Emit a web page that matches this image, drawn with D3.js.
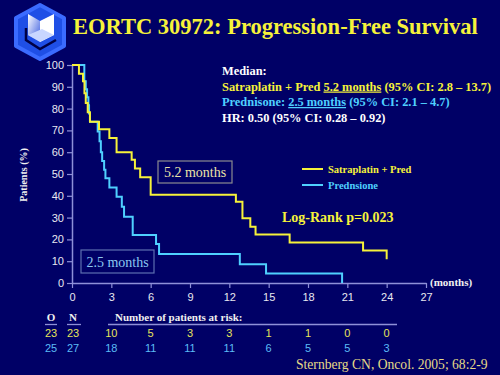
<!DOCTYPE html>
<html>
<head>
<meta charset="utf-8">
<script src="https://cdn.jsdelivr.net/npm/d3@7"></script>
<style>
  body { margin: 0; background: #000066; }
  svg { display: block; }
</style>
</head>
<body>
<div id="chart"></div>
<script>
// Kaplan-Meier steps (months, % progression-free)
const satTimes = [0, 0.53, 0.84, 0.95, 1.05, 1.2, 1.37, 2.06, 2.85, 3.4, 4.55, 4.8, 5.2, 6.0, 12.5, 13.0, 13.6, 14.0, 16.6, 22.2, 24];
const satSurv  = [100, 96, 92.5, 87, 82.6, 78.3, 74, 70.5, 66.5, 60, 56.5, 52.5, 48.5, 40.5, 37.3, 29.7, 25.8, 22.3, 18.6, 14.9, 10.9];
const predTimes = [0, 0.94, 1.05, 1.15, 1.25, 1.3, 1.37, 1.96, 2.1, 2.2, 2.3, 2.45, 2.55, 2.85, 3.4, 3.8, 3.97, 4.63, 6.41, 6.64, 12.8, 14.8, 20.6];
const predSurv  = [100, 92.6, 88.9, 85.2, 81.5, 77.8, 74, 69.5, 65, 60, 56, 52, 48, 43.8, 39.6, 35, 30.4, 22, 17.9, 13.3, 8.6, 4.4, 0];

const xTicks = [0, 3, 6, 9, 12, 15, 18, 21, 24, 27];
const yTicks = [0, 10, 20, 30, 40, 50, 60, 70, 80, 90, 100];

// number at risk
const riskTimes = [3, 6, 9, 12, 15, 18, 21, 24];
const satRisk  = [10, 5, 3, 3, 1, 1, 0, 0];
const predRisk = [18, 11, 11, 11, 6, 5, 5, 3];
const satON  = [23, 23];
const predON = [25, 27];

const width = 500, height = 375;
const YEL = "#f6f23a", CYAN = "#4fd0ff", AXIS = "#8e90d8";
const SERIF = "'Liberation Serif', 'Times New Roman', serif";
const SANS = "'Liberation Sans', Arial, sans-serif";

const svg = d3.select("#chart").append("svg")
  .attr("width", width).attr("height", height);

svg.append("rect").attr("width", width).attr("height", height).attr("fill", "#000066");

// logo
const defs = svg.append("defs");
const grad = defs.append("linearGradient").attr("id", "lg")
  .attr("x1", "0").attr("y1", "0").attr("x2", "1").attr("y2", "1");
grad.append("stop").attr("offset", "0").attr("stop-color", "#ffffff");
grad.append("stop").attr("offset", "1").attr("stop-color", "#3a5ce0");
const logo = svg.append("g").attr("transform", "translate(40,32)");
logo.append("path")
  .attr("d", "M0,-27 L24,-14 L24,14 L0,27 L-24,14 L-24,-14 Z")
  .attr("fill", "#1f4fe6").attr("stroke", "#3b6bff").attr("stroke-width", 4).attr("stroke-linejoin", "round");
logo.append("path").attr("d", "M-12,-18 L0,-11 L0,10 L-12,3 Z").attr("fill", "url(#lg)");
logo.append("path").attr("d", "M0,-11 L14,-18 L14,3 L0,10 Z").attr("fill", "#ffffff");
logo.append("path").attr("d", "M-12,3 L0,10 L14,3 L2,-3 Z").attr("fill", "#c9d6ff");
logo.append("path").attr("d", "M-14,-4 L-14,8 L0,17 L16,8").attr("fill", "none").attr("stroke", "#000044").attr("stroke-width", 2.5);

// title
svg.append("text")
  .attr("x", 73).attr("y", 34)
  .attr("font-family", SERIF).attr("font-weight", "bold").attr("font-size", 22.5)
  .attr("fill", YEL)
  .text("EORTC 30972: Progression-Free Survival");

const x = d3.scaleLinear().domain([0, 27]).range([72, 426]);
const y = d3.scaleLinear().domain([0, 100]).range([283, 65]);

// axes
const yAxis = svg.append("g").attr("transform", "translate(72,0)")
  .call(d3.axisLeft(y).tickValues(yTicks).tickSize(5).tickSizeOuter(0));
const xAxis = svg.append("g").attr("transform", "translate(0,283)")
  .call(d3.axisBottom(x).tickValues(xTicks).tickSize(5).tickSizeOuter(0));
[xAxis, yAxis].forEach(a => {
  a.select(".domain").attr("stroke", AXIS).attr("stroke-width", 1.5);
  a.selectAll(".tick line").attr("stroke", AXIS).attr("stroke-width", 1.2);
  a.selectAll(".tick text").attr("fill", "#e8e8f0")
    .attr("font-family", SANS).attr("font-size", 11);
});
yAxis.selectAll(".tick text").attr("x", -8);
xAxis.selectAll(".tick text").attr("y", 10);

svg.append("text")
  .attr("transform", "translate(27,175) rotate(-90)")
  .attr("text-anchor", "middle")
  .attr("font-family", SERIF).attr("font-weight", "bold").attr("font-size", 10)
  .attr("fill", "#f0f0f0")
  .text("Patients (%)");

svg.append("text")
  .attr("x", 430).attr("y", 286)
  .attr("font-family", SERIF).attr("font-weight", "bold").attr("font-size", 11)
  .attr("fill", "#f0f0f0")
  .text("(months)");

// curves
const line = d3.line().x(d => x(d[0])).y(d => y(d[1])).curve(d3.curveStepAfter);
svg.append("path")
  .datum(predTimes.map((t, i) => [t, predSurv[i]]))
  .attr("fill", "none").attr("stroke", CYAN).attr("stroke-width", 2)
  .attr("d", line);
svg.append("path")
  .datum(satTimes.map((t, i) => [t, satSurv[i]]))
  .attr("fill", "none").attr("stroke", YEL).attr("stroke-width", 2)
  .attr("d", line);

// median boxes
function medianBox(x0, y0, w, h, label, stroke, color) {
  svg.append("rect").attr("x", x0).attr("y", y0).attr("width", w).attr("height", h)
    .attr("fill", "#000066").attr("stroke", stroke).attr("stroke-width", 1.2);
  svg.append("text")
    .attr("x", x0 + w / 2).attr("y", y0 + h / 2 + 5)
    .attr("text-anchor", "middle")
    .attr("font-family", SERIF).attr("font-size", 14)
    .attr("fill", color)
    .text(label);
}
medianBox(158, 161, 74, 22, "5.2 months", "#8a8a90", "#ece4a8");
medianBox(81, 250, 73, 23, "2.5 months", "#5d6fb0", "#8cc8f0");

// legend
const legend = [["Satraplatin + Pred", YEL], ["Prednsione", CYAN]];
legend.forEach((d, i) => {
  const ly = 169 + i * 16;
  svg.append("line").attr("x1", 302).attr("x2", 323).attr("y1", ly).attr("y2", ly)
    .attr("stroke", d[1]).attr("stroke-width", 2);
  svg.append("text").attr("x", 328).attr("y", ly + 3.5)
    .attr("font-family", SERIF).attr("font-weight", "bold").attr("font-size", 10.5)
    .attr("fill", d[1]).text(d[0]);
});

svg.append("text")
  .attr("x", 282).attr("y", 222)
  .attr("font-family", SERIF).attr("font-weight", "bold").attr("font-size", 14)
  .attr("fill", YEL)
  .text("Log-Rank p=0.023");

// median summary text
const med = svg.append("g")
  .attr("font-family", SERIF).attr("font-weight", "bold").attr("font-size", 12.4);
med.append("text").attr("x", 222).attr("y", 75).attr("fill", "#ffffff").text("Median:");
const l2 = med.append("text").attr("x", 222).attr("y", 90.5).attr("fill", YEL);
l2.append("tspan").text("Satraplatin + Pred ");
l2.append("tspan").attr("text-decoration", "underline").text("5.2 months");
l2.append("tspan").text(" (95% CI: 2.8 \u2013 13.7)");
const l3 = med.append("text").attr("x", 222).attr("y", 106).attr("fill", CYAN);
l3.append("tspan").text("Prednisone: ");
l3.append("tspan").attr("text-decoration", "underline").text("2.5 months");
l3.append("tspan").text(" (95% CI: 2.1 \u2013 4.7)");
med.append("text").attr("x", 222).attr("y", 121.5).attr("fill", "#ffffff").text("HR: 0.50 (95% CI: 0.28 \u2013 0.92)");

// risk table
const hdr = svg.append("g").attr("font-family", SERIF).attr("font-weight", "bold")
  .attr("font-size", 11).attr("fill", "#f0f0f0");
hdr.append("text").attr("x", 51).attr("y", 321).attr("text-anchor", "middle").text("O");
hdr.append("text").attr("x", 73).attr("y", 321).attr("text-anchor", "middle").text("N");
hdr.append("text").attr("x", 115).attr("y", 321).text("Number of patients at risk:");
[[45, 57], [67, 81], [108, 397]].forEach(s => {
  svg.append("line").attr("x1", s[0]).attr("x2", s[1]).attr("y1", 324.5).attr("y2", 324.5)
    .attr("stroke", AXIS).attr("stroke-width", 1.3);
});

const rows = [[satON, satRisk, "#e8e45a", 337], [predON, predRisk, "#5cbcf6", 352]];
rows.forEach(r => {
  const g = svg.append("g").attr("font-family", SANS).attr("font-size", 11)
    .attr("fill", r[2]).attr("text-anchor", "middle");
  g.append("text").attr("x", 51).attr("y", r[3]).text(r[0][0]);
  g.append("text").attr("x", 73).attr("y", r[3]).text(r[0][1]);
  g.selectAll(".risk").data(r[1]).join("text")
    .attr("class", "risk")
    .attr("x", (d, i) => x(riskTimes[i]))
    .attr("y", r[3])
    .text(d => d);
});

svg.append("text")
  .attr("x", 296).attr("y", 369)
  .attr("font-family", SERIF).attr("font-size", 13.6)
  .attr("fill", "#e6da86")
  .text("Sternberg CN, Oncol. 2005; 68:2-9");
</script>
</body>
</html>
